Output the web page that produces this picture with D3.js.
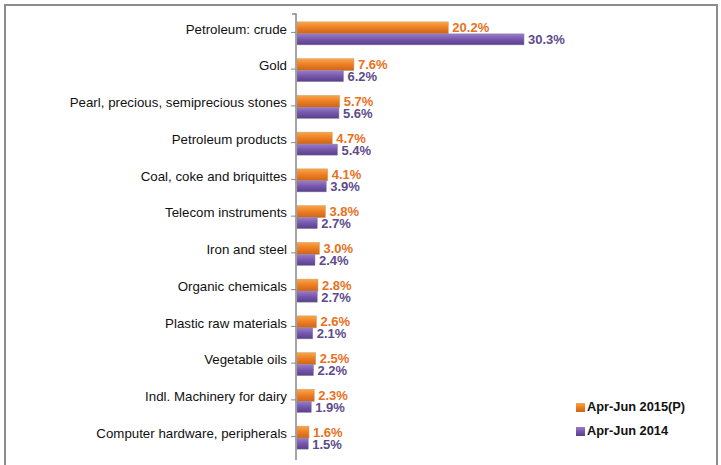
<!DOCTYPE html>
<html>
<head>
<meta charset="utf-8">
<script src="https://cdn.jsdelivr.net/npm/d3@7"></script>
<style>
  body { margin: 0; background: #fff; }
  svg { font-family: "Liberation Sans", sans-serif; }
</style>
</head>
<body>
<svg width="721" height="465"></svg>
<script>
const categories = ['Petroleum: crude', 'Gold', 'Pearl, precious, semiprecious stones', 'Petroleum products',
  'Coal, coke and briquittes', 'Telecom instruments', 'Iron and steel', 'Organic chemicals',
  'Plastic raw materials', 'Vegetable oils', 'Indl. Machinery for dairy', 'Computer hardware, peripherals'];
const share2015 = [20.2, 7.6, 5.7, 4.7, 4.1, 3.8, 3.0, 2.8, 2.6, 2.5, 2.3, 1.6];
const share2014 = [30.3, 6.2, 5.6, 5.4, 3.9, 2.7, 2.4, 2.7, 2.1, 2.2, 1.9, 1.5];
const seriesNames = ['Apr-Jun 2015(P)', 'Apr-Jun 2014'];

const svg = d3.select('svg');

// outer frame
svg.append('rect')
  .attr('x', 5).attr('y', 5).attr('width', 712).attr('height', 470)
  .attr('fill', 'none').attr('stroke', '#8c8c8c').attr('stroke-width', 2);

const defs = svg.append('defs');
const gradOrange = defs.append('linearGradient').attr('id', 'gOrange').attr('x1', 0).attr('y1', 0).attr('x2', 0).attr('y2', 1);
gradOrange.append('stop').attr('offset', '0%').attr('stop-color', '#f7a748');
gradOrange.append('stop').attr('offset', '50%').attr('stop-color', '#ee7d22');
gradOrange.append('stop').attr('offset', '100%').attr('stop-color', '#c9651a');
const gradPurple = defs.append('linearGradient').attr('id', 'gPurple').attr('x1', 0).attr('y1', 0).attr('x2', 0).attr('y2', 1);
gradPurple.append('stop').attr('offset', '0%').attr('stop-color', '#9a7ccc');
gradPurple.append('stop').attr('offset', '50%').attr('stop-color', '#7656ab');
gradPurple.append('stop').attr('offset', '100%').attr('stop-color', '#58408a');

const x = d3.scaleLinear().domain([0, 30.3]).range([297, 524]);
const y = d3.scaleBand().domain(categories).range([14, 455]);
const barH = 12;

const g = svg.append('g');

// axis
const axis = d3.axisLeft(y).tickSize(5).tickSizeOuter(0);
const ax = svg.append('g').attr('transform', 'translate(296,0)').call(axis);
ax.select('.domain').attr('stroke', '#888').attr('stroke-width', 1.5).attr('d', 'M-4,14H0V460');
ax.selectAll('.tick line').attr('stroke', '#888');
ax.selectAll('.tick text')
  .attr('x', -9)
  .attr('font-size', 13.3)
  .attr('fill', '#111')
  .attr('dy', '0.1em');

const rows = categories.map((c, i) => ({ c, a: share2015[i], b: share2014[i] }));

const row = g.selectAll('g.row').data(rows).join('g').attr('class', 'row');

row.append('rect')
  .attr('x', x(0)).attr('y', d => y(d.c) + y.bandwidth() / 2 - barH + 1.5)
  .attr('width', d => x(d.a) - x(0)).attr('height', barH)
  .attr('fill', 'url(#gOrange)').attr('stroke', '#c8a070').attr('stroke-width', 0.5);

row.append('rect')
  .attr('x', x(0)).attr('y', d => y(d.c) + y.bandwidth() / 2 + 1.5)
  .attr('width', d => x(d.b) - x(0)).attr('height', barH - 1)
  .attr('fill', 'url(#gPurple)').attr('stroke', '#8a80a0').attr('stroke-width', 0.5);

row.append('text')
  .attr('x', d => x(d.a) + 4).attr('y', d => y(d.c) + y.bandwidth() / 2 - 4.5)
  .attr('dy', '0.35em')
  .attr('font-size', 13).attr('font-weight', 'bold').attr('fill', '#e8711c')
  .text(d => d.a.toFixed(1) + '%');

row.append('text')
  .attr('x', d => x(d.b) + 4).attr('y', d => y(d.c) + y.bandwidth() / 2 + 7.5)
  .attr('dy', '0.35em')
  .attr('font-size', 13).attr('font-weight', 'bold').attr('fill', '#5e4a8b')
  .text(d => d.b.toFixed(1) + '%');

// legend
const legend = svg.append('g');
const legColors = ['url(#gOrange)', 'url(#gPurple)'];
seriesNames.forEach((name, i) => {
  const ly = 407 + i * 24;
  legend.append('rect').attr('x', 576).attr('y', ly - 4).attr('width', 9).attr('height', 9)
    .attr('fill', legColors[i]);
  legend.append('text').attr('x', 587).attr('y', ly).attr('dy', '0.35em')
    .attr('font-size', 12.8).attr('font-weight', 'bold').attr('fill', '#111')
    .text(name);
});
</script>
</body>
</html>
